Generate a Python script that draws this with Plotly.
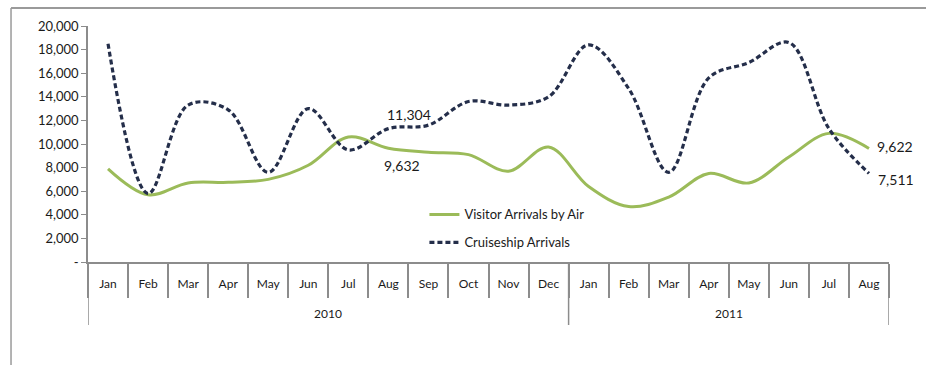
import plotly.graph_objects as go

# Monthly arrivals, Jan 2010 - Aug 2011
years = ["2010"] * 12 + ["2011"] * 8
months = ["Jan", "Feb", "Mar", "Apr", "May", "Jun", "Jul", "Aug", "Sep", "Oct", "Nov", "Dec",
          "Jan", "Feb", "Mar", "Apr", "May", "Jun", "Jul", "Aug"]

air_arrivals = [7900, 5700, 6700, 6750, 7000, 8200, 10600, 9632, 9300, 9100, 7700, 9750,
                6400, 4700, 5500, 7500, 6700, 8900, 10900, 9622]
cruise_arrivals = [18500, 5800, 13300, 12900, 7600, 13000, 9500, 11304, 11600, 13600, 13300, 14000,
                   18400, 14700, 7600, 15600, 16900, 18600, 11300, 7511]

y_ticks = [0, 2000, 4000, 6000, 8000, 10000, 12000, 14000, 16000, 18000, 20000]
y_tick_text = ["-"] + [f"{v:,}" for v in y_ticks[1:]]

AIR_COLOR = "#9BBB59"
CRUISE_COLOR = "#242E4A"
FONT = "Lato, 'Open Sans', sans-serif"
AXIS_GRAY = "#8c8c8c"
TEXT = "#1a1a1a"

# one unique category per month; the axis shows only the month name
cats = [f"{m} {y}" for m, y in zip(months, years)]

fig = go.Figure()
fig.add_trace(go.Scatter(
    x=cats, y=air_arrivals, mode="lines", name="Visitor Arrivals by Air",
    line=dict(color=AIR_COLOR, width=3, shape="spline", smoothing=1.0),
    legendgroup="air", hoverinfo="skip",
))
fig.add_trace(go.Scatter(
    x=cats, y=cruise_arrivals, mode="lines", name="Cruiseship Arrivals",
    line=dict(color=CRUISE_COLOR, width=3.2, dash="5px,3px", shape="spline", smoothing=1.0),
    legendgroup="cruise", hoverinfo="skip",
))

# value labels: (series values, index, x-anchor, y-anchor, xshift, yshift)
value_labels = [
    (cruise_arrivals, 7, "left", "bottom", -3, 4),
    (air_arrivals, 7, "left", "top", -6, -7),
    (air_arrivals, 19, "left", "middle", 6, 2),
    (cruise_arrivals, 19, "left", "middle", 7, -6),
]
annotations = []
for vals, i, xa, ya, dx, dy in value_labels:
    annotations.append(dict(
        x=cats[i], y=vals[i], xref="x", yref="y", text=f"{vals[i]:,}", showarrow=False,
        xanchor=xa, yanchor=ya, xshift=dx, yshift=dy,
        font=dict(family=FONT, size=14, color=TEXT),
    ))

# year group labels and dividers on the category axis
shapes = []
group_start = 0
for i in range(1, len(years) + 1):
    if i == len(years) or years[i] != years[group_start]:
        annotations.append(dict(
            x=(group_start + i - 1) / 2, y=-0.22, xref="x", yref="paper",
            text=years[group_start], showarrow=False, xanchor="center", yanchor="middle",
            font=dict(family=FONT, size=12, color=TEXT),
        ))
        shapes.append(dict(type="line", xref="x", yref="paper",
                           x0=group_start - 0.5, x1=group_start - 0.5, y0=0, y1=-0.267,
                           line=dict(color=AXIS_GRAY, width=1.5)))
        group_start = i
shapes.append(dict(type="line", xref="x", yref="paper",
                   x0=len(years) - 0.5, x1=len(years) - 0.5, y0=0, y1=-0.267,
                   line=dict(color=AXIS_GRAY, width=1.5)))

# outer chart frame (top and left edges)
shapes += [
    dict(type="line", xref="paper", yref="paper", x0=-0.0961, x1=1.05, y0=1.076, y1=1.076,
         line=dict(color="#9a9a9a", width=2)),
    dict(type="line", xref="paper", yref="paper", x0=-0.0961, x1=-0.0961, y0=1.076, y1=-0.45,
         line=dict(color="#9a9a9a", width=1.5)),
]

fig.update_layout(
    width=926, height=365,
    margin=dict(l=88, r=37, t=26, b=103),
    paper_bgcolor="white", plot_bgcolor="white",
    font=dict(family=FONT, size=12, color=TEXT),
    showlegend=True,
    legend=dict(
        x=0.42, y=0.265, xanchor="left", yanchor="top",
        bgcolor="rgba(0,0,0,0)", font=dict(family=FONT, size=13, color=TEXT),
        tracegroupgap=8,
    ),
    xaxis=dict(
        type="category", range=[-0.5, len(cats) - 0.5],
        tickmode="array", tickvals=cats, ticktext=months,
        showline=True, linecolor=AXIS_GRAY, linewidth=1.5,
        ticks="outside", tickson="boundaries", ticklen=34, tickcolor=AXIS_GRAY, tickwidth=1.5,
        ticklabelstandoff=10,
        tickfont=dict(family=FONT, size=12, color=TEXT),
        showgrid=False, zeroline=False,
    ),
    yaxis=dict(
        range=[0, 20000], tickvals=y_ticks, ticktext=y_tick_text,
        showline=True, linecolor=AXIS_GRAY, linewidth=1.5,
        ticks="outside", ticklen=5, tickcolor=AXIS_GRAY,
        tickfont=dict(family=FONT, size=13, color=TEXT),
        showgrid=False, zeroline=False,
    ),
    annotations=annotations,
    shapes=shapes,
)

fig.write_html("out.html")
